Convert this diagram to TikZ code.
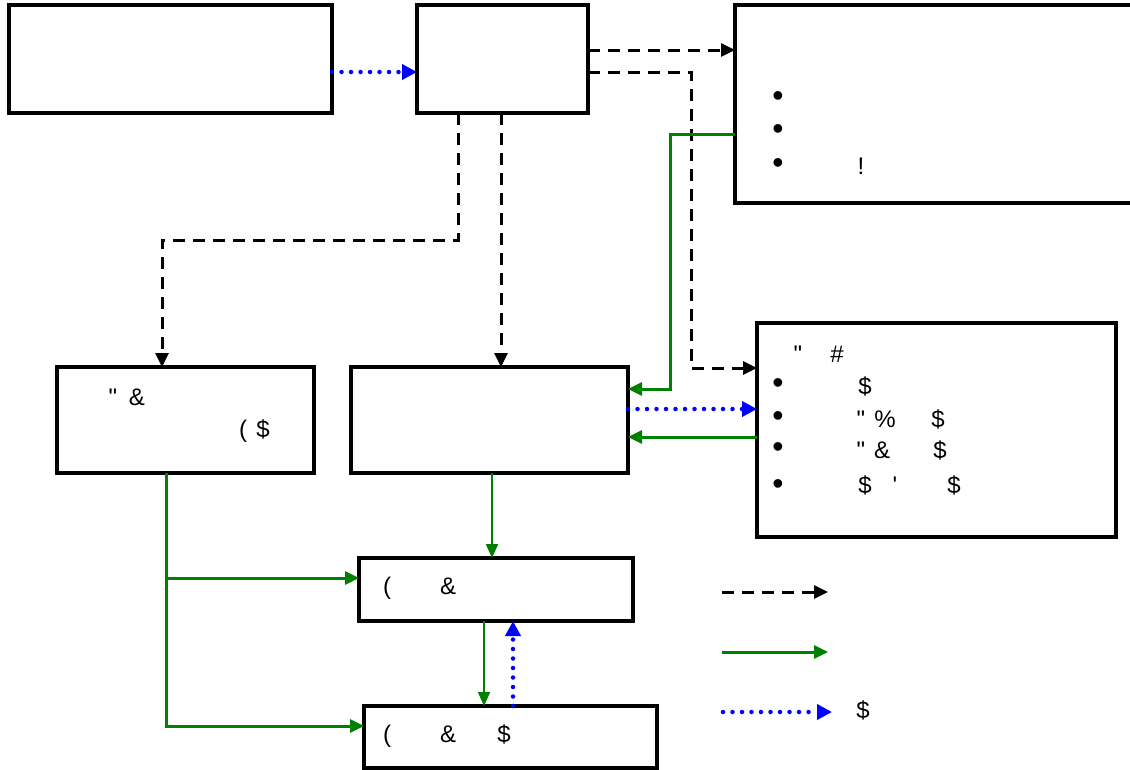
\documentclass[tikz,border=0pt]{standalone}
\usepackage{fontspec}
\setmainfont{Liberation Sans}
\usetikzlibrary{arrows.meta}
\definecolor{mygreen}{RGB}{0,128,0}
\definecolor{myblue}{RGB}{0,0,255}
\begin{document}
\begin{tikzpicture}[x=1pt,y=-1pt,
  box/.style={draw=black,line width=3.2pt,fill=white,anchor=north west,inner sep=0pt,outer sep=0pt},
  txt/.style={anchor=base,inner sep=0pt,font=\fontsize{24}{28}\selectfont},
  bul/.style={anchor=center,inner sep=0pt,font=\fontsize{32}{32}\selectfont},
  blackdash/.style={draw=black,line width=3pt,dash pattern=on 12pt off 8pt,-{Triangle[length=14pt,width=13pt]}},
  greenline/.style={draw=mygreen,line width=3pt,-{Triangle[length=14pt,width=13pt]}},
  thingreen/.style={draw=mygreen,line width=2pt,-{Triangle[length=14pt,width=12pt]}},
  bluedot/.style={draw=myblue,line width=4.5pt,line cap=round,dash pattern=on 0pt off 9.5pt,-{Triangle[length=15pt,width=15pt,line cap=butt]}}
]
\clip (0,0) rectangle (1130,769);
\fill[white] (0,0) rectangle (1130,769);
% boxes
\node[box,minimum width=323pt,minimum height=108pt] (A) at (9,5) {};
\node[box,minimum width=171pt,minimum height=108pt] (B) at (417,5) {};
\node[box,minimum width=410pt,minimum height=198pt] (C) at (735,5) {};
\node[box,minimum width=257pt,minimum height=106pt] (D) at (57,367) {};
\node[box,minimum width=277pt,minimum height=106pt] (E) at (351,367) {};
\node[box,minimum width=359pt,minimum height=214pt] (F) at (757,323) {};
\node[box,minimum width=274pt,minimum height=63pt] (G) at (359,558) {};
\node[box,minimum width=293pt,minimum height=62pt] (H) at (364,706) {};
% connectors
\draw[bluedot] (A.east |- 0,72) -- (B.west |- 0,72);
\draw[blackdash] (B.east |- 0,50) -- (C.west |- 0,50);
\draw[blackdash] (B.east |- 0,72) -| (691,368) -- (F.west |- 0,368);
\draw[blackdash] (B.south -| 458,0) |- (162,240) -- (D.north -| 162,0);
\draw[blackdash] (B.south -| 501,0) -- (E.north -| 501,0);
\draw[greenline] (C.west |- 0,134) -| (670,389) -- (E.east |- 0,389);
\draw[bluedot] (E.east |- 0,409) -- (F.west |- 0,409);
\draw[greenline] (F.west |- 0,437) -- (E.east |- 0,437);
\draw[thingreen] (E.south -| 492,0) -- (G.north -| 492,0);
\coordinate (br) at (166,578);
\draw[greenline] (D.south -| 166,0) |- (H.west |- 0,726);
\draw[greenline] (br) -- (G.west |- 0,578);
\draw[thingreen] (G.south -| 484,0) -- (H.north -| 484,0);
\draw[bluedot] (H.north -| 513,0) -- (G.south -| 513,0);
% legend
\coordinate (l1s) at (722,592); \coordinate (l1e) at (828,592);
\coordinate (l2s) at (722,652); \coordinate (l2e) at (828,652);
\coordinate (l3s) at (723,712); \coordinate (l3e) at (832,712);
\draw[blackdash] (l1s) -- (l1e);
\draw[greenline] (l2s) -- (l2e);
\draw[bluedot] (l3s) -- (l3e);
\node[txt] (lt3) at (863,718) {\$};
% texts in C
\node[bul] (cb1) at (778,99) {•};
\node[bul] (cb2) at (778,132) {•};
\node[bul] (cb3) at (778,166) {•};
\node[txt] (ct3) at (861,174) {!};
% texts in D
\node[txt] (d1a) at (113,405) {\textquotedbl};
\node[txt] (d1b) at (137,405) {\&};
\node[txt] (d2a) at (243,437) {(};
\node[txt] (d2b) at (263,437) {\$};
% texts in F
\node[txt] (f0a) at (798,362) {\textquotedbl};
\node[txt] (f0b) at (837,362) {\#};
\node[bul] (fb1) at (778,386) {•};
\node[bul] (fb2) at (778,419) {•};
\node[bul] (fb3) at (778,450) {•};
\node[bul] (fb4) at (778,487) {•};
\node[txt] (f1a) at (865,394) {\$};
\node[txt] (f2a) at (861,427) {\textquotedbl};
\node[txt] (f2b) at (885,427) {\%};
\node[txt] (f2c) at (938,427) {\$};
\node[txt] (f3a) at (861,458) {\textquotedbl};
\node[txt] (f3b) at (882,458) {\&};
\node[txt] (f3c) at (940,458) {\$};
\node[txt] (f4a) at (865,493) {\$};
\node[txt] (f4b) at (895,493) {\textquotesingle};
\node[txt] (f4c) at (954,493) {\$};
% texts in G and H
\node[txt] (g1) at (387,594) {(};
\node[txt] (g2) at (448,594) {\&};
\node[txt] (h1) at (387,742) {(};
\node[txt] (h2) at (448,742) {\&};
\node[txt] (h3) at (504,742) {\$};
\end{tikzpicture}
\end{document}
